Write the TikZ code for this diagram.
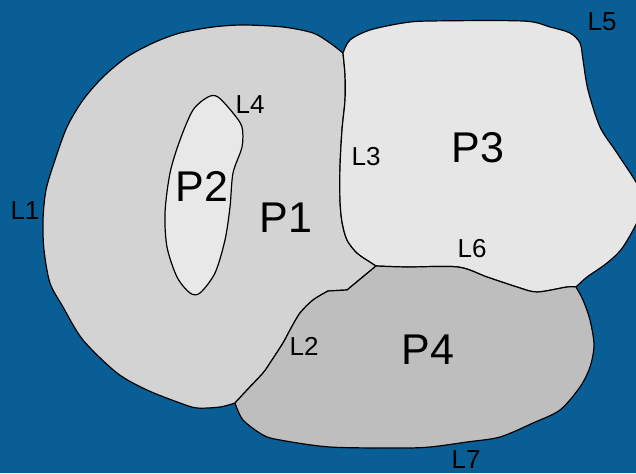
\documentclass[tikz,border=0pt]{standalone}
\usepackage{fontspec}
\setmainfont{Liberation Sans}
\usepackage{tikz}
\tikzstyle{region} = [draw=black, line width=1.2pt, line join=round]
\tikzstyle{plabel} = [inner sep=0pt, text=black, font=\fontsize{43}{43}\selectfont]
\tikzstyle{llabel} = [inner sep=0pt, text=black, font=\fontsize{26}{26}\selectfont]
\definecolor{seablue}{RGB}{10,94,150}
\definecolor{grayone}{RGB}{211,211,211}
\definecolor{graytwo}{RGB}{232,232,232}
\definecolor{graythree}{RGB}{230,230,230}
\definecolor{grayfour}{RGB}{190,190,190}

\begin{document}
\begin{tikzpicture}[x=1pt, y=-1pt]
        \useasboundingbox (0,0) rectangle (636,473);
        \clip (0,0) rectangle (636,473);
        \fill [seablue] (0,0) rectangle (636,473);

        % P1
        \filldraw [region, fill=grayone]
            plot [smooth] coordinates {(343,53) (330,43) (313,33) (283,27) (243,25) (213,27) (180,33) (153,43) (127,57) (103,77) (83,100) (67,127) (55,160) (46,190) (43,220) (44,250) (50,283) (63,307) (83,340) (117,373) (147,390) (180,403) (197,408) (220,407) (235,403)}
            -- plot [smooth] coordinates {(235,403) (247,390) (263,373) (270,363) (283,343) (290,330) (300,313) (313,300) (328,291)}
            -- (347,290) -- (376,266)
            -- plot [smooth] coordinates {(376,266) (370,262) (357,253) (347,240) (342,222) (340,200) (340,167) (342,130) (345,100) (345,75) (343,53)}
            -- cycle;

        % P3
        \filldraw [region, fill=graythree]
            plot [smooth] coordinates {(376,266) (407,267) (458,267) (487,277) (517,287) (537,292) (567,287) (576,287)}
            -- plot [smooth] coordinates {(576,287) (587,277) (607,263) (623,247) (640,215) (640,190) (617,153) (600,127) (588,90) (583,60) (580,43) (570,33) (550,27) (523,21) (430,21) (403,23) (370,30) (350,40) (343,53)}
            -- plot [smooth] coordinates {(343,53) (345,75) (345,100) (342,130) (340,167) (340,200) (342,222) (347,240) (357,253) (370,262) (376,266)}
            -- cycle;

        % P4
        \filldraw [region, fill=grayfour]
            plot [smooth] coordinates {(235,403) (247,390) (263,373) (270,363) (283,343) (290,330) (300,313) (313,300) (328,291)}
            -- (347,290) -- (376,266)
            -- plot [smooth] coordinates {(376,266) (407,267) (458,267) (487,277) (517,287) (537,292) (567,287) (576,287)}
            -- plot [smooth] coordinates {(576,287) (583,300) (590,320) (594,345) (590,367) (580,387) (560,410) (533,423) (500,437) (467,442) (430,447) (400,448) (330,447) (280,440) (263,435) (243,420) (235,403)}
            -- cycle;

        % P2
        \filldraw [region, fill=graytwo]
            plot [smooth cycle] coordinates {(208,97) (218,97) (233,113) (242,127) (242,147) (233,173) (230,207) (225,240) (215,273) (200,293) (190,293) (177,277) (167,247) (165,213) (170,173) (180,140) (193,110)};

        \node (p1) [plabel] at (286,218) {P1};
        \node (p2) [plabel] at (202,186) {P2};
        \node (p3) [plabel] at (478,148) {P3};
        \node (p4) [plabel] at (428,350) {P4};

        \node (l1) [llabel] at (25,211) {L1};
        \node (l2) [llabel] at (304,346) {L2};
        \node (l3) [llabel] at (366,157) {L3};
        \node (l4) [llabel] at (250,105) {L4};
        \node (l5) [llabel] at (602,22) {L5};
        \node (l6) [llabel] at (472,249) {L6};
        \node (l7) [llabel] at (466,460) {L7};
    \end{tikzpicture}
\end{document}
